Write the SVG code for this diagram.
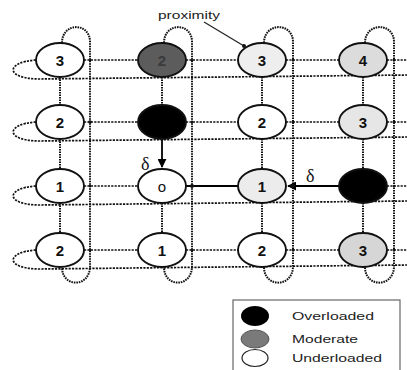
<svg xmlns="http://www.w3.org/2000/svg" width="407" height="370" viewBox="0 0 407 370">
<style>
.dot{fill:none;stroke:#111;stroke-width:1.7;stroke-dasharray:2.2 1.2}
.vd{fill:none;stroke:#111;stroke-width:2;stroke-dasharray:1.6 0.9}
.solid{fill:none;stroke:#000;stroke-width:1.8}
.node{stroke:#111;stroke-width:1.9}
.num{font-family:"Liberation Sans",Arial,sans-serif;font-weight:bold;font-size:15px;text-anchor:middle;fill:#111}
.lbl{font-family:"Liberation Sans",Arial,sans-serif;font-size:11px;fill:#222}
.delta{font-family:"Liberation Serif","Times New Roman",serif;font-size:18px;fill:#111}
</style>
<defs>
<marker id="ah" viewBox="0 0 10 10" refX="9" refY="5" markerWidth="5" markerHeight="5" orient="auto">
<path d="M0,0 L10,5 L0,10 z" fill="#000"/>
</marker>
</defs>
<rect width="407" height="370" fill="#fff"/>
<g id="connectors">
<!-- row wrap loops -->
<path class="dot" d="M36,60 C5,62 5,79 40,79 L407,75"/>
<path class="dot" d="M36,122 C5,124 5,141 40,141 L407,137"/>
<path class="dot" d="M36,186 C5,188 5,205 40,205 L407,201"/>
<path class="dot" d="M36,250 C5,252 5,269 40,269 L407,265"/>
<!-- row links -->
<path class="dot" d="M84,60 H138 M186,60 H238 M286,60 H339 M387,60 H407"/>
<path class="dot" d="M84,122 H138 M186,122 H238 M286,122 H339 M387,122 H407"/>
<path class="dot" d="M84,186 H138 M387,186 H407"/>
<path class="dot" d="M84,250 H138 M186,250 H238 M286,250 H339 M387,250 H407"/>
<!-- column wrap loops -->
<path class="vd" d="M62,43 C62,22 90,22 90,42 L90,266 C90,288 62,288 62,267"/>
<path class="vd" d="M164,43 C164,22 192,22 192,42 L192,266 C192,288 164,288 164,267"/>
<path class="vd" d="M264,43 C264,22 293,22 293,42 L293,266 C293,288 264,288 264,267"/>
<path class="vd" d="M365,43 C365,22 394,22 394,42 L394,266 C394,288 365,288 365,267"/>
<!-- column links -->
<path class="vd" d="M60,77 V105 M60,139 V169 M60,203 V233"/>
<path class="vd" d="M162,77 V105 M162,203 V233"/>
<path class="vd" d="M262,77 V105 M262,139 V169 M262,203 V233"/>
<path class="vd" d="M363,77 V105 M363,139 V169 M363,203 V233"/>
<!-- solid load moves -->
<path class="solid" d="M162,139 V167" marker-end="url(#ah)"/>
<path class="solid" d="M186,186 H238"/>
<path class="solid" d="M339,186 H288" marker-end="url(#ah)"/>
<!-- crossing dots -->
<g fill="#111">
<circle cx="90" cy="122" r="1.8"/>
<circle cx="192" cy="186" r="2"/>
<circle cx="293" cy="186" r="2"/>
<circle cx="90" cy="60" r="1.2"/>
<circle cx="192" cy="60" r="1.2"/>
<circle cx="293" cy="60" r="1.2"/>
<circle cx="394" cy="60" r="1.2"/>
<circle cx="192" cy="122" r="1.2"/>
<circle cx="293" cy="122" r="1.2"/>
<circle cx="394" cy="122" r="1.2"/>
<circle cx="90" cy="186" r="1.2"/>
<circle cx="394" cy="186" r="1.2"/>
<circle cx="90" cy="250" r="1.2"/>
<circle cx="192" cy="250" r="1.2"/>
<circle cx="293" cy="250" r="1.2"/>
<circle cx="394" cy="250" r="1.2"/>
</g>
<!-- proximity pointer -->
<path d="M204,22 L244,46" stroke="#222" stroke-width="1.2"/>
<circle cx="244" cy="46" r="2" fill="#111"/>
</g>
<g id="n11"><ellipse class="node" cx="60" cy="60" rx="24" ry="17" fill="#fff"/><text class="num" x="60" y="65.5">3</text></g>
<g id="n12"><ellipse class="node" cx="162" cy="60" rx="24" ry="17" fill="#5c5c5c"/><text class="num" x="162" y="65.5" style="fill:#3a3a3a">2</text></g>
<g id="n13"><ellipse class="node" cx="262" cy="60" rx="24" ry="17" fill="#eeeeee"/><text class="num" x="262" y="65.5">3</text></g>
<g id="n14"><ellipse class="node" cx="363" cy="60" rx="24" ry="17" fill="#dcdcdc"/><text class="num" x="363" y="65.5">4</text></g>
<g id="n21"><ellipse class="node" cx="60" cy="122" rx="24" ry="17" fill="#fff"/><text class="num" x="60" y="127.5">2</text></g>
<g id="n22"><ellipse class="node" cx="162" cy="122" rx="24" ry="17" fill="#000"/></g>
<g id="n23"><ellipse class="node" cx="262" cy="122" rx="24" ry="17" fill="#fff"/><text class="num" x="262" y="127.5">2</text></g>
<g id="n24"><ellipse class="node" cx="363" cy="122" rx="24" ry="17" fill="#e6e6e6"/><text class="num" x="363" y="127.5">3</text></g>
<g id="n31"><ellipse class="node" cx="60" cy="186" rx="24" ry="17" fill="#fff"/><text class="num" x="60" y="191.5">1</text></g>
<g id="n32"><ellipse class="node" cx="162" cy="186" rx="24" ry="17" fill="#fff"/><text class="num" x="162" y="191.5" style="font-weight:normal">o</text></g>
<g id="n33"><ellipse class="node" cx="262" cy="186" rx="24" ry="17" fill="#ececec"/><text class="num" x="262" y="191.5">1</text></g>
<g id="n34"><ellipse class="node" cx="363" cy="186" rx="24" ry="17" fill="#000"/></g>
<g id="n41"><ellipse class="node" cx="60" cy="250" rx="24" ry="17" fill="#fff"/><text class="num" x="60" y="255.5">2</text></g>
<g id="n42"><ellipse class="node" cx="162" cy="250" rx="24" ry="17" fill="#fff"/><text class="num" x="162" y="255.5">1</text></g>
<g id="n43"><ellipse class="node" cx="262" cy="250" rx="24" ry="17" fill="#fff"/><text class="num" x="262" y="255.5">2</text></g>
<g id="n44"><ellipse class="node" cx="363" cy="250" rx="24" ry="17" fill="#d6d6d6"/><text class="num" x="363" y="255.5">3</text></g>
<g id="labels">
<text class="lbl" x="158" y="19" textLength="62" lengthAdjust="spacingAndGlyphs">proximity</text>
<text class="delta" x="141" y="170">δ</text>
<text class="delta" x="306" y="182">δ</text>
</g>
<g id="legend">
<rect x="233" y="300" width="167" height="75" fill="#fff" stroke="#666" stroke-width="1.2"/>
<ellipse cx="255" cy="316" rx="14" ry="10" fill="#000"/>
<ellipse cx="255" cy="339" rx="14" ry="9" fill="#7a7a7a" stroke="#555" stroke-width="1"/>
<ellipse cx="255" cy="358" rx="13" ry="8.5" fill="#fff" stroke="#222" stroke-width="1.2"/>
<text class="lbl" x="292" y="320" textLength="82" lengthAdjust="spacingAndGlyphs">Overloaded</text>
<text class="lbl" x="292" y="343" textLength="66" lengthAdjust="spacingAndGlyphs">Moderate</text>
<text class="lbl" x="292" y="362" textLength="90" lengthAdjust="spacingAndGlyphs">Underloaded</text>
</g>
</svg>
